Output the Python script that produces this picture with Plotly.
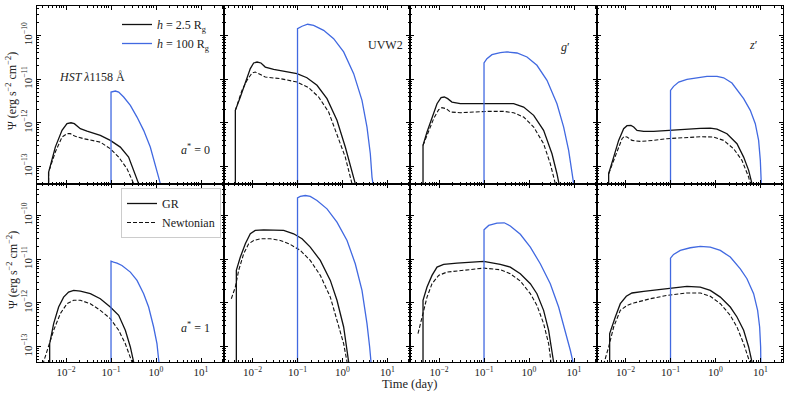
import plotly.graph_objects as go

# ---------------- data (time in days, Psi in erg s^-2 cm^-2) ----------------
# a* = 0, HST 1158 A
t_hst0_gr = [0.0041, 0.0041, 0.00578, 0.00815, 0.0105, 0.0129, 0.0153, 0.0208, 0.0293, 0.0578, 0.0964, 0.161, 0.246, 0.347, 0.41, 0.43]
f_hst0_gr = [1e-15, 7.4e-14, 2.78e-13, 6.7e-13, 9.55e-13, 1.0e-12, 9.55e-13, 7.33e-13, 6.46e-13, 5.15e-13, 3.95e-13, 2.78e-13, 1.64e-13, 6.84e-14, 4.07e-14, 1e-15]
t_hst0_nw = [0.0041, 0.0041, 0.00578, 0.00815, 0.0105, 0.0125, 0.0161, 0.0246, 0.0578, 0.0964, 0.148, 0.227, 0.318, 0.335]
f_hst0_nw = [1e-15, 7.4e-14, 2.14e-13, 4.71e-13, 5.64e-13, 5.64e-13, 4.89e-13, 4.33e-13, 3.61e-13, 2.55e-13, 1.64e-13, 8.91e-14, 4.07e-14, 1e-15]
t_hst0_bl = [0.1, 0.1, 0.125, 0.148, 0.191, 0.269, 0.378, 0.531, 0.746, 0.964, 1.14, 1.245, 1.3]
f_hst0_bl = [1e-15, 5.05e-12, 5.32e-12, 5.05e-12, 3.88e-12, 2.5e-12, 1.35e-12, 6.7e-13, 2.79e-13, 1.16e-13, 5.73e-14, 4.07e-14, 1e-15]

# a* = 0, UVW2
t_uvw0_gr = [0.00415, 0.00415, 0.00536, 0.00692, 0.00893, 0.0106, 0.0126, 0.0154, 0.0192, 0.0295, 0.0492, 0.0973, 0.162, 0.271, 0.452, 0.753, 1.153, 1.62, 1.92, 2.0]
f_uvw0_gr = [1e-15, 1.92e-12, 3.88e-12, 8.55e-12, 1.73e-11, 2.33e-11, 2.45e-11, 2.33e-11, 1.88e-11, 1.67e-11, 1.53e-11, 1.33e-11, 1.07e-11, 7.18e-12, 3.56e-12, 1.14e-12, 2.79e-13, 8.15e-14, 4.07e-14, 1e-15]
t_uvw0_nw = [0.00415, 0.00583, 0.00753, 0.00973, 0.0115, 0.0149, 0.0192, 0.0415, 0.0973, 0.177, 0.295, 0.492, 0.753, 1.153, 1.62, 1.7]
f_uvw0_nw = [1.92e-12, 5.51e-12, 9.33e-12, 1.37e-11, 1.45e-11, 1.28e-11, 1.11e-11, 1.02e-11, 8.55e-12, 6.35e-12, 3.88e-12, 1.76e-12, 5.62e-13, 1.64e-13, 4.07e-14, 1e-15]
t_uvw0_bl = [0.1, 0.1, 0.126, 0.168, 0.228, 0.381, 0.635, 1.06, 1.77, 2.71, 3.50, 4.15, 4.52, 4.75, 4.9]
f_uvw0_bl = [1e-15, 1.42e-10, 1.61e-10, 1.79e-10, 1.69e-10, 1.30e-10, 8.39e-11, 4.16e-11, 1.33e-11, 3.26e-12, 7.98e-13, 1.96e-13, 5.73e-14, 4.07e-14, 1e-15]

# a* = 0, g'
t_g0_gr = [0.00441, 0.00441, 0.00541, 0.00698, 0.00902, 0.0111, 0.0131, 0.0156, 0.0194, 0.0297, 0.0589, 0.116, 0.273, 0.455, 0.760, 1.27, 2.11, 3.24, 4.18, 4.63, 4.8]
f_g0_gr = [1e-15, 3.04e-13, 6.14e-13, 1.35e-12, 2.73e-12, 3.75e-12, 3.88e-12, 3.56e-12, 2.98e-12, 2.73e-12, 2.73e-12, 2.82e-12, 2.82e-12, 2.73e-12, 2.29e-12, 1.48e-12, 6.70e-13, 1.96e-13, 6.84e-14, 4.07e-14, 1e-15]
t_g0_nw = [0.00441, 0.00541, 0.0076, 0.00982, 0.0116, 0.0145, 0.0178, 0.0297, 0.116, 0.273, 0.455, 0.760, 1.27, 2.11, 2.97, 3.84, 4.0]
f_g0_nw = [3.04e-13, 5.15e-13, 1.24e-12, 1.99e-12, 2.21e-12, 2.10e-12, 1.76e-12, 1.70e-12, 1.82e-12, 1.82e-12, 1.70e-12, 1.35e-12, 7.98e-13, 3.32e-13, 1.16e-13, 4.07e-14, 1e-15]
t_g0_bl = [0.1, 0.1, 0.116, 0.150, 0.230, 0.324, 0.541, 0.902, 1.50, 2.51, 4.18, 5.89, 7.60, 9.02, 9.82, 10.2]
f_g0_bl = [1e-15, 2.33e-11, 2.92e-11, 3.61e-11, 4.01e-11, 4.16e-11, 3.94e-11, 3.19e-11, 2.06e-11, 9.33e-12, 2.73e-12, 7.98e-13, 2.33e-13, 8.15e-14, 4.07e-14, 1e-15]

# a* = 0, z'
t_z0_gr = [0.00422, 0.00422, 0.00545, 0.00703, 0.00908, 0.0108, 0.0132, 0.0152, 0.0180, 0.0253, 0.0422, 0.0836, 0.196, 0.459, 0.766, 1.08, 1.80, 3.00, 4.22, 5.45, 6.46, 6.7]
f_z0_gr = [1e-15, 6.84e-14, 1.64e-13, 3.95e-13, 7.31e-13, 8.57e-13, 8.73e-13, 7.98e-13, 6.70e-13, 6.35e-13, 6.35e-13, 6.70e-13, 6.93e-13, 7.45e-13, 7.57e-13, 7.19e-13, 5.62e-13, 3.32e-13, 1.64e-13, 8.15e-14, 4.07e-14, 1e-15]
t_z0_nw = [0.00422, 0.00545, 0.00703, 0.00836, 0.0094, 0.0108, 0.0139, 0.0213, 0.0422, 0.0836, 0.196, 0.459, 0.908, 1.52, 2.53, 3.87, 5.45, 5.93, 6.1]
f_z0_nw = [6.84e-14, 1.38e-13, 2.79e-13, 4.32e-13, 4.89e-13, 4.72e-13, 3.95e-13, 3.75e-13, 3.95e-13, 4.32e-13, 4.55e-13, 4.80e-13, 4.72e-13, 3.95e-13, 2.55e-13, 1.38e-13, 5.73e-14, 4.07e-14, 1e-15]
t_z0_bl = [0.1, 0.1, 0.117, 0.152, 0.232, 0.387, 0.646, 1.08, 1.52, 2.32, 3.00, 4.22, 5.93, 7.66, 9.08, 9.91, 10.4, 10.6]
f_z0_bl = [1e-15, 5.51e-12, 6.81e-12, 8.55e-12, 9.84e-12, 1.07e-11, 1.15e-11, 1.15e-11, 1.07e-11, 8.11e-12, 5.71e-12, 3.56e-12, 1.92e-12, 9.53e-13, 3.95e-13, 1.38e-13, 4.07e-14, 1e-15]

# a* = 1, HST 1158 A
t_hst1_gr = [0.00433, 0.00433, 0.00531, 0.00685, 0.00885, 0.0114, 0.0148, 0.0208, 0.0347, 0.0578, 0.0964, 0.148, 0.208, 0.269, 0.318, 0.33]
f_hst1_gr = [1e-15, 1.17e-13, 3.37e-13, 8.07e-13, 1.36e-12, 1.78e-12, 1.94e-12, 1.87e-12, 1.63e-12, 1.25e-12, 8.07e-13, 5.21e-13, 2.37e-13, 9.86e-14, 4.48e-14, 1e-15]
t_hst1_nw = [0.0023, 0.00318, 0.00411, 0.00531, 0.00746, 0.0105, 0.0148, 0.0208, 0.0347, 0.0578, 0.0964, 0.148, 0.208, 0.292, 0.30]
f_hst1_nw = [1.6e-14, 4.48e-14, 9.86e-14, 2.37e-13, 5.69e-13, 9.62e-13, 1.15e-12, 1.15e-12, 9.62e-13, 6.78e-13, 4.38e-13, 2.37e-13, 1.17e-13, 4.48e-14, 1e-15]
t_hst1_bl = [0.1, 0.1, 0.114, 0.136, 0.175, 0.269, 0.378, 0.531, 0.685, 0.885, 1.05, 1.16, 1.2]
f_hst1_bl = [1e-15, 9.06e-12, 8.59e-12, 8.17e-12, 7.21e-12, 5.08e-12, 3.28e-12, 1.63e-12, 8.07e-13, 2.82e-13, 1.17e-13, 4.48e-14, 1e-15]

# a* = 1, UVW2
t_uvw1_gr = [0.00437, 0.00437, 0.00536, 0.00692, 0.00893, 0.0115, 0.0177, 0.0295, 0.0492, 0.0820, 0.126, 0.192, 0.321, 0.536, 0.753, 1.06, 1.26, 1.37, 1.42]
f_uvw1_gr = [1e-15, 5.55e-12, 1.12e-11, 2.25e-11, 3.82e-11, 4.55e-11, 4.71e-11, 4.71e-11, 4.55e-11, 3.82e-11, 2.93e-11, 1.89e-11, 9.40e-12, 3.28e-12, 1.15e-12, 2.82e-13, 8.28e-14, 4.48e-14, 1e-15]
t_uvw1_nw = [0.00338, 0.00415, 0.00492, 0.00635, 0.0082, 0.0106, 0.0149, 0.0249, 0.0415, 0.0692, 0.115, 0.192, 0.321, 0.536, 0.753, 1.06, 1.26, 1.3]
f_uvw1_nw = [1.25e-12, 2.31e-12, 5.55e-12, 1.33e-11, 2.25e-11, 2.69e-11, 2.93e-11, 2.93e-11, 2.69e-11, 2.18e-11, 1.59e-11, 9.40e-12, 4.27e-12, 1.36e-12, 4.01e-13, 1.17e-13, 4.48e-14, 1e-15]
t_uvw1_bl = [0.1, 0.1, 0.115, 0.149, 0.192, 0.271, 0.452, 0.753, 1.26, 1.92, 2.71, 3.50, 4.01, 4.30, 4.45]
f_uvw1_bl = [1e-15, 2.53e-10, 2.72e-10, 2.86e-10, 2.72e-10, 2.20e-10, 1.42e-10, 7.05e-11, 2.69e-11, 7.89e-12, 1.94e-12, 3.37e-13, 9.86e-14, 4.48e-14, 1e-15]

# a* = 1, g'
t_g1_gr = [0.00441, 0.00441, 0.00541, 0.00698, 0.00902, 0.0127, 0.0251, 0.0497, 0.0982, 0.230, 0.384, 0.641, 1.07, 1.50, 2.11, 2.73, 3.24, 3.52, 3.65]
f_g1_gr = [1e-15, 1.15e-12, 2.31e-12, 4.27e-12, 6.61e-12, 7.60e-12, 8.17e-12, 8.59e-12, 8.91e-12, 7.60e-12, 6.61e-12, 4.66e-12, 2.75e-12, 1.63e-12, 6.78e-13, 2.37e-13, 8.28e-14, 4.48e-14, 1e-15]
t_g1_nw = [0.00341, 0.00419, 0.00541, 0.00698, 0.00982, 0.0150, 0.0352, 0.0698, 0.1, 0.230, 0.384, 0.641, 1.07, 1.50, 2.11, 2.73, 3.08, 3.2]
f_g1_nw = [1.99e-13, 4.78e-13, 1.36e-12, 2.75e-12, 4.27e-12, 5.08e-12, 5.55e-12, 6.05e-12, 6.27e-12, 5.74e-12, 4.66e-12, 3.17e-12, 1.63e-12, 8.81e-13, 3.37e-13, 1.17e-13, 4.48e-14, 1e-15]
t_g1_bl = [0.1, 0.1, 0.127, 0.194, 0.282, 0.384, 0.641, 1.07, 1.78, 2.97, 4.55, 6.41, 8.28, 9.48, 9.8]
f_g1_bl = [1e-15, 4.71e-11, 5.92e-11, 6.68e-11, 6.81e-11, 5.75e-11, 3.72e-11, 1.89e-11, 7.89e-12, 2.75e-12, 8.07e-13, 2.37e-13, 8.28e-14, 4.48e-14, 1e-15]

# a* = 1, z'
t_z1_gr = [0.00444, 0.00444, 0.00593, 0.00766, 0.0104, 0.0139, 0.0253, 0.0593, 0.117, 0.232, 0.459, 0.766, 1.28, 2.13, 3.00, 4.22, 5.45, 6.46, 6.7]
f_z1_gr = [1e-15, 1.99e-13, 4.78e-13, 9.62e-13, 1.42e-12, 1.69e-12, 1.84e-12, 2.01e-12, 2.23e-12, 2.39e-12, 2.31e-12, 1.94e-12, 1.36e-12, 8.07e-13, 4.78e-13, 2.37e-13, 9.86e-14, 4.48e-14, 1e-15]
t_z1_nw = [0.0030, 0.00338, 0.00422, 0.00545, 0.00766, 0.0108, 0.0152, 0.0356, 0.0836, 0.232, 0.459, 0.766, 1.28, 2.13, 3.00, 4.22, 5.74, 5.9]
f_z1_nw = [1.5e-14, 4.48e-14, 9.86e-14, 2.82e-13, 6.78e-13, 8.81e-13, 9.95e-13, 1.25e-12, 1.49e-12, 1.69e-12, 1.69e-12, 1.42e-12, 9.62e-13, 5.21e-13, 2.82e-13, 1.17e-13, 4.48e-14, 1e-15]
t_z1_bl = [0.1, 0.1, 0.117, 0.165, 0.275, 0.459, 0.766, 1.28, 2.13, 2.53, 3.56, 5.00, 7.03, 8.63, 9.57, 10.07, 10.4, 10.6]
f_z1_bl = [1e-15, 1.06e-11, 1.29e-11, 1.59e-11, 1.83e-11, 1.96e-11, 1.89e-11, 1.59e-11, 1.12e-11, 9.06e-12, 6.05e-12, 3.58e-12, 1.63e-12, 6.78e-13, 2.82e-13, 9.86e-14, 4.48e-14, 1e-15]

band_labels = ["<i>HST</i> <i>λ</i>1158 Å", "UVW2", "<i>g</i>′", "<i>z</i>′"]
spin_labels = ["<i>a</i><sup>*</sup> = 0", "<i>a</i><sup>*</sup> = 1"]
x_tick_vals = [1e-2, 1e-1, 1e0, 1e1]
x_tick_text = ["10<sup>−2</sup>", "10<sup>−1</sup>", "10<sup>0</sup>", "10<sup>1</sup>"]
y_tick_vals = [1e-13, 1e-12, 1e-11, 1e-10]
y_tick_text = ["10<sup>−13</sup>", "10<sup>−12</sup>", "10<sup>−11</sup>", "10<sup>−10</sup>"]

panels = [
    [(t_hst0_gr, f_hst0_gr, t_hst0_nw, f_hst0_nw, t_hst0_bl, f_hst0_bl),
     (t_uvw0_gr, f_uvw0_gr, t_uvw0_nw, f_uvw0_nw, t_uvw0_bl, f_uvw0_bl),
     (t_g0_gr, f_g0_gr, t_g0_nw, f_g0_nw, t_g0_bl, f_g0_bl),
     (t_z0_gr, f_z0_gr, t_z0_nw, f_z0_nw, t_z0_bl, f_z0_bl)],
    [(t_hst1_gr, f_hst1_gr, t_hst1_nw, f_hst1_nw, t_hst1_bl, f_hst1_bl),
     (t_uvw1_gr, f_uvw1_gr, t_uvw1_nw, f_uvw1_nw, t_uvw1_bl, f_uvw1_bl),
     (t_g1_gr, f_g1_gr, t_g1_nw, f_g1_nw, t_g1_bl, f_g1_bl),
     (t_z1_gr, f_z1_gr, t_z1_nw, f_z1_nw, t_z1_bl, f_z1_bl)],
]

# ---------------- style ----------------
FONT = "Liberation Serif"
BLACK = "#111111"
BLUE = "#4169e1"
W, H = 789, 395
ML, MR, MT, MB = 37, 6, 6, 33
PW, PH = W - ML - MR, H - MT - MB

def px(x):
    return (x - ML) / PW

def py(y):
    return (H - MB - y) / PH

x_range = [-2.645, 1.50]
y_ranges = [[-13.40, -9.33], [-13.35, -9.28]]
x_minor = [k * 10.0 ** e for e in range(-3, 2) for k in range(2, 10)]
y_minor = [k * 10.0 ** e for e in range(-14, -9) for k in range(2, 10)]

fig = go.Figure()
layout = {}
for r in range(2):
    for c in range(4):
        i = r * 4 + c + 1
        xa = "x" if i == 1 else f"x{i}"
        ya = "y" if i == 1 else f"y{i}"
        tg, fg, tn, fn, tb, fb = panels[r][c]
        first = (c == 0)
        leg = "legend" if r == 0 else "legend2"
        fig.add_trace(go.Scatter(
            x=tg, y=fg, mode="lines", xaxis=xa, yaxis=ya,
            line=dict(color=BLACK, width=1.3),
            name=("<i>h</i> = 2.5 R<sub>g</sub>" if r == 0 else "GR"),
            showlegend=first, legend=leg))
        fig.add_trace(go.Scatter(
            x=tn, y=fn, mode="lines", xaxis=xa, yaxis=ya,
            line=dict(color=BLACK, width=1.1, dash="4px,2px"),
            name="Newtonian", showlegend=(first and r == 1), legend="legend2"))
        fig.add_trace(go.Scatter(
            x=tb, y=fb, mode="lines", xaxis=xa, yaxis=ya,
            line=dict(color=BLUE, width=1.3),
            name="<i>h</i> = 100 R<sub>g</sub>", showlegend=(first and r == 0), legend="legend"))

        common = dict(showline=True, linecolor="black", linewidth=1, mirror="allticks",
                      ticks="inside", ticklen=4, tickwidth=0.8, tickcolor="black",
                      showgrid=False, zeroline=False, automargin=False,
                      tickfont=dict(family=FONT, size=11, color="#222"))
        layout["xaxis" + ("" if i == 1 else str(i))] = dict(
            common, type="log", range=x_range, domain=[c * 0.25, (c + 1) * 0.25],
            anchor=ya, tickmode="array", tickvals=x_tick_vals, ticktext=x_tick_text,
            showticklabels=(r == 1),
            minor=dict(tickmode="array", tickvals=x_minor, ticks="inside", ticklen=2,
                       tickwidth=0.6, tickcolor="black", showgrid=False))
        layout["yaxis" + ("" if i == 1 else str(i))] = dict(
            common, type="log", range=y_ranges[r],
            domain=[0.5, 1.0] if r == 0 else [0.0, 0.5],
            anchor=xa, tickmode="array", tickvals=y_tick_vals, ticktext=y_tick_text,
            tickangle=-90, showticklabels=(c == 0),
            minor=dict(tickmode="array", tickvals=y_minor, ticks="inside", ticklen=2,
                       tickwidth=0.6, tickcolor="black", showgrid=False))

annotations = []
def note(x, y, text, size=12, angle=0):
    annotations.append(dict(x=px(x), y=py(y), xref="paper", yref="paper", text=text,
                            xanchor="center", yanchor="middle", textangle=angle,
                            showarrow=False, font=dict(family=FONT, size=size, color="#222")))

band_pos = [(91.5, 77), (385, 45), (565, 47), (753, 45)]
for (bx, by), txt in zip(band_pos, band_labels):
    note(bx, by, txt)
for (sx, sy), txt in zip([(195, 149), (195, 327)], spin_labels):
    note(sx, sy, txt)
for cy in (91, 270):
    note(12, cy, "Ψ (erg s<sup>−2</sup> cm<sup>−2</sup>)", angle=-90)
note(409.7, 384, "Time (day)", size=12.5)

fig.update_layout(
    width=W, height=H, margin=dict(l=ML, r=MR, t=MT, b=MB, autoexpand=False),
    paper_bgcolor="white", plot_bgcolor="white",
    annotations=annotations,
    legend=dict(x=px(117), y=py(10), xanchor="left", yanchor="top",
                bgcolor="rgba(255,255,255,0)", borderwidth=0,
                font=dict(family=FONT, size=12, color="#222"), tracegroupgap=0,
                itemwidth=30),
    legend2=dict(x=px(121), y=py(188), xanchor="left", yanchor="top",
                 bgcolor="white", bordercolor="#cccccc", borderwidth=1,
                 font=dict(family=FONT, size=12, color="#222"), tracegroupgap=0,
                 itemwidth=30),
    **layout,
)

fig.write_html("out.html", config={"displayModeBar": False},
               post_script="document.body.style.margin='0';")
